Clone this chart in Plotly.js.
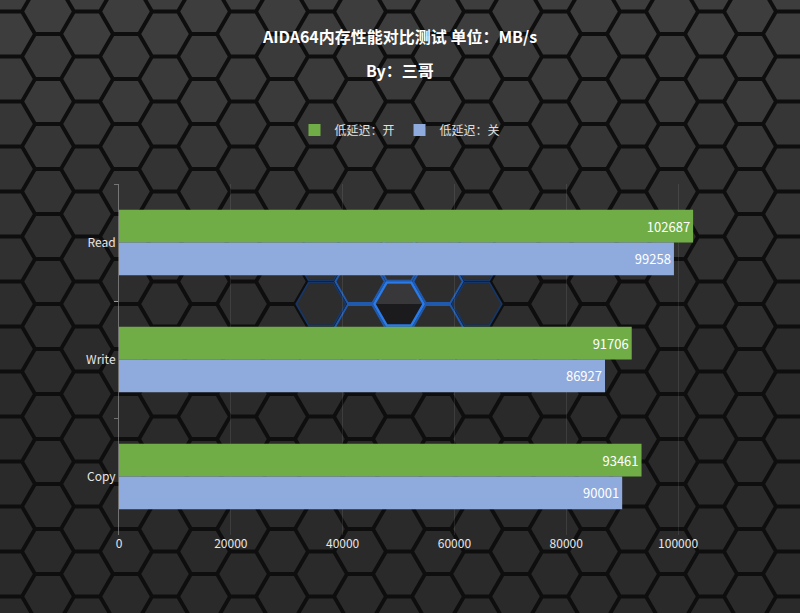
<!DOCTYPE html>
<html>
<head>
<meta charset="utf-8">
<script src="https://cdn.plot.ly/plotly-3.0.1.min.js"></script>
<style>html,body{margin:0;padding:0;background:#111;}#chart{width:800px;height:613px;}</style>
</head>
<body>
<div id="chart"></div>
<script>
// ---- data ----
const categories = ['Read', 'Write', 'Copy'];
const seriesOnName = '低延迟：开';
const seriesOffName = '低延迟：关';
const latencyOn = [102687, 91706, 93461];
const latencyOff = [99258, 86927, 90001];
const xTickValues = [0, 20000, 40000, 60000, 80000, 100000];

// ---- decorative hexagon background (pixel -> paper conversion) ----
const W = 800, H = 613, ML = 119, MR = 66, MT = 184, MB = 78;
const PW = W - ML - MR, PH = H - MT - MB;
function px(x) { return ((x - ML) / PW).toFixed(5); }
function py(y) { return ((H - MB - y) / PH).toFixed(5); }
function hexPath(cx, cy, r) {
  const h = r * Math.sqrt(3) / 2;
  const pts = [[cx - r, cy], [cx - r / 2, cy - h], [cx + r / 2, cy - h], [cx + r, cy], [cx + r / 2, cy + h], [cx - r / 2, cy + h]];
  return 'M' + pts.map(p => px(p[0]) + ',' + py(p[1])).join('L') + 'Z';
}
function halfHexPath(cx, cy, r, top) {
  const h = r * Math.sqrt(3) / 2;
  const s = top ? -1 : 1;
  const pts = [[cx - r, cy], [cx - r / 2, cy + s * h], [cx + r / 2, cy + s * h], [cx + r, cy]];
  return 'M' + pts.map(p => px(p[0]) + ',' + py(p[1])).join('L') + 'Z';
}
const R = 26, colPitch = 39, rowPitch = 45, yShift = 3.5;
const bands = {};
const shades = ['#3d3d3d', '#3a3a3a', '#363636', '#333333', '#303030', '#2d2d2d', '#2b2b2b', '#2a2a2a'];
const centers = [];
for (let k = -1; k <= 22; k++) {
  const cx = 48 + colPitch * k;
  const y0 = ((k % 2 === 0) ? 53 : 30.5) + yShift;
  for (let j = -2; j <= 15; j++) {
    const cy = y0 + rowPitch * j;
    centers.push([cx, cy]);
    let idx = Math.max(0, Math.min(shades.length - 1, Math.floor(cy / 55)));
    (bands[idx] = bands[idx] || []).push(hexPath(cx, cy, R - 2.2));
  }
}
const shapes = [];
Object.keys(bands).forEach(i => {
  shapes.push({type: 'path', xref: 'paper', yref: 'paper', layer: 'below',
    path: bands[i].join(' '), fillcolor: shades[i], line: {width: 0}});
});
// blue glow around the centre hexagon
const gx = 399, gy = 300.5 + yShift;
const ring1 = [], ring2 = [];
centers.forEach(c => {
  const [cx, cy] = c;
  const d = Math.hypot(cx - gx, cy - gy);
  if (d > 1 && d < 50) ring1.push(hexPath(cx, cy, R - 1.3));
  else if (d >= 50 && d < 100 && cy > 240 && cy < 360) ring2.push(hexPath(cx, cy, R - 1.3));
});
shapes.push({type: 'path', xref: 'paper', yref: 'paper', layer: 'below',
  path: ring2.join(' '), fillcolor: 'rgba(0,0,0,0)', line: {color: 'rgba(35,105,210,0.45)', width: 1.8}});
shapes.push({type: 'path', xref: 'paper', yref: 'paper', layer: 'below',
  path: ring1.join(' '), fillcolor: 'rgba(0,0,0,0)', line: {color: 'rgba(40,115,225,0.75)', width: 2}});
shapes.push({type: 'path', xref: 'paper', yref: 'paper', layer: 'below',
  path: halfHexPath(gx, gy, R - 2.5, true), fillcolor: '#38383a', line: {width: 0}});
shapes.push({type: 'path', xref: 'paper', yref: 'paper', layer: 'below',
  path: halfHexPath(gx, gy, R - 2.5, false), fillcolor: '#1b1b1d', line: {width: 0}});
shapes.push({type: 'path', xref: 'paper', yref: 'paper', layer: 'below',
  path: hexPath(gx, gy, R - 1.3), fillcolor: 'rgba(0,0,0,0)', line: {color: '#2a7ae8', width: 2.5}});

const font = '"Noto Sans CJK SC", "Noto Sans", sans-serif';

const traces = [
  {type: 'bar', orientation: 'h', name: seriesOnName, y: categories, x: latencyOn,
   marker: {color: '#70ad47'}, text: latencyOn.map(String), textposition: 'inside',
   insidetextanchor: 'end', textfont: {color: '#ffffff', size: 13, family: font}, hoverinfo: 'x+name'},
  {type: 'bar', orientation: 'h', name: seriesOffName, y: categories, x: latencyOff,
   marker: {color: '#8faadc'}, text: latencyOff.map(String), textposition: 'inside',
   insidetextanchor: 'end', textfont: {color: '#ffffff', size: 13, family: font}, hoverinfo: 'x+name'}
];

const layout = {
  width: W, height: H,
  paper_bgcolor: '#0e0e0e', plot_bgcolor: 'rgba(0,0,0,0)',
  margin: {l: ML, r: MR, t: MT, b: MB, pad: 0},
  font: {family: font, color: '#e6e6e6', size: 12},
  title: {text: '<b>AIDA64内存性能对比测试 单位：MB/s</b>', x: 0.5, xanchor: 'center',
    y: 1 - 32 / H, yref: 'container', yanchor: 'top',
    font: {family: font, size: 16, color: '#ffffff'}},
  annotations: [{text: '<b>By：三哥</b>', xref: 'paper', yref: 'paper', x: 0.5 + (400 - ML - PW / 2) / PW,
    y: Number(py(70)), xanchor: 'center', yanchor: 'middle', showarrow: false,
    font: {family: font, size: 16, color: '#ffffff'}}],
  barmode: 'group', bargap: 0.44, bargroupgap: 0,
  showlegend: true,
  legend: {orientation: 'h', x: 0.5 + (400 - ML - PW / 2) / PW, xanchor: 'center', y: Number(py(130)), yanchor: 'middle',
    traceorder: 'normal', font: {family: font, size: 12, color: '#e0e0e0'}, bgcolor: 'rgba(0,0,0,0)', itemwidth: 30},
  xaxis: {range: [0, 110000], tickvals: xTickValues, ticktext: xTickValues.map(String),
    showgrid: true, gridcolor: 'rgba(255,255,255,0.09)', gridwidth: 1, zeroline: false,
    showline: false, ticks: '', tickfont: {family: font, size: 12, color: '#e6e6e6'}},
  yaxis: {type: 'category', autorange: 'reversed', showgrid: false, zeroline: false,
    showline: true, linecolor: 'rgba(200,200,200,0.45)', linewidth: 1,
    ticks: 'outside', ticklen: 4, tickcolor: 'rgba(200,200,200,0.45)', tickson: 'boundaries',
    tickfont: {family: font, size: 12, color: '#e6e6e6'}},
  shapes: shapes
};

Plotly.newPlot('chart', traces, layout, {displayModeBar: false, staticPlot: true});
</script>
</body>
</html>
